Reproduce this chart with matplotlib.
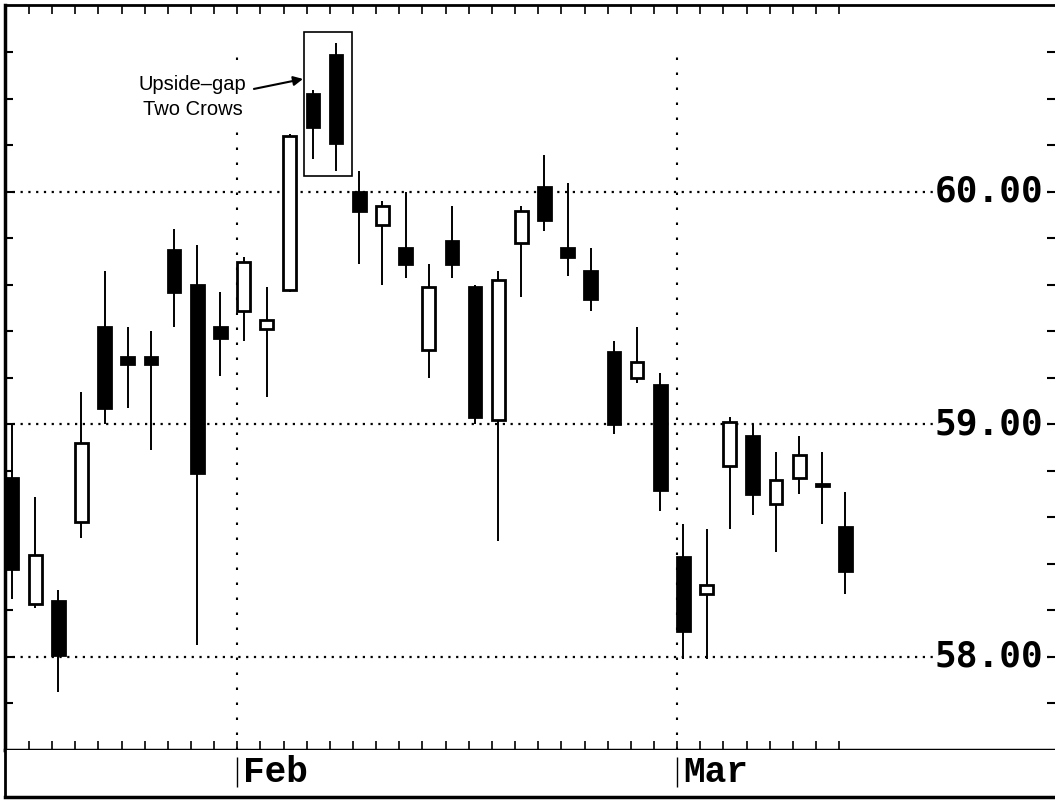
import numpy as np
import matplotlib
matplotlib.use("Agg")
import matplotlib.pyplot as plt
import matplotlib.transforms as mtransforms
from matplotlib.patches import Rectangle

# daily candles, one per trading day (Jan .. Mar)
opens = [58.77, 58.23, 58.24, 58.58, 59.42, 59.29, 59.29, 59.75, 59.60, 59.42,
         59.49, 59.41, 59.58, 60.42, 60.59, 60.00, 59.86, 59.76, 59.32, 59.79,
         59.59, 59.02, 59.78, 60.02, 59.76, 59.66, 59.31, 59.20, 59.17, 58.43,
         58.27, 58.82, 58.95, 58.66, 58.77, 58.745, 58.56]
closes = [58.38, 58.44, 58.01, 58.92, 59.07, 59.26, 59.26, 59.57, 58.79, 59.37,
          59.70, 59.45, 60.24, 60.28, 60.21, 59.92, 59.94, 59.69, 59.59, 59.69,
          59.03, 59.62, 59.92, 59.88, 59.72, 59.54, 59.00, 59.27, 58.72, 58.11,
          58.31, 59.01, 58.70, 58.76, 58.87, 58.735, 58.37]
highs = [59.00, 58.69, 58.29, 59.14, 59.66, 59.42, 59.40, 59.84, 59.77, 59.57,
         59.72, 59.59, 60.25, 60.44, 60.64, 60.09, 59.96, 60.00, 59.69, 59.94,
         59.60, 59.66, 59.94, 60.16, 60.04, 59.76, 59.36, 59.42, 59.22, 58.57,
         58.55, 59.03, 59.00, 58.88, 58.95, 58.88, 58.71]
lows = [58.25, 58.21, 57.85, 58.51, 59.00, 59.07, 58.89, 59.42, 58.05, 59.21,
        59.36, 59.12, 59.57, 60.14, 60.09, 59.69, 59.60, 59.63, 59.20, 59.63,
        59.00, 58.50, 59.55, 59.83, 59.64, 59.49, 58.96, 59.18, 58.63, 57.99,
        57.99, 58.55, 58.61, 58.45, 58.70, 58.57, 58.27]

month_names = ["Feb", "Mar"]
month_start = [10, 29]          # index of first trading day of the month
price_labels = [58.0, 59.0, 60.0]
pattern_days = [13, 14]         # upside-gap two crows
pattern_text = "Upside\u2013gap\nTwo Crows"


def draw_candles(ax):
    x = np.arange(len(opens))
    o = np.array(opens)
    c = np.array(closes)
    ax.vlines(x, lows, highs, color="black", lw=1.4, zorder=3)
    colors = ["black" if cc < oo else "white" for oo, cc in zip(o, c)]
    ax.bar(x, np.abs(c - o), bottom=np.minimum(o, c), width=0.55,
           color=colors, edgecolor="black", linewidth=2, zorder=4)


def main():
    W, H = 1055, 800
    fig = plt.figure(figsize=(W / 100, H / 100), dpi=100)
    ax = fig.add_axes([5 / W, 50 / H, 1 - 5 / W, 745 / H])
    lab = fig.add_axes([5 / W, 3 / H, 1 - 5 / W, 47 / H])

    xlim = (-0.302, 45.05)
    ax.set_xlim(*xlim)
    ax.set_ylim(57.6, 60.804)
    lab.set_xlim(*xlim)
    lab.set_ylim(0, 1)

    draw_candles(ax)

    # dotted grid
    for p in price_labels:
        ax.axhline(p, color="black", lw=1.6, dashes=(1, 2.5), zorder=1)
    month_x = [m - 0.27 for m in month_start]
    ax.vlines(month_x, 57.6, 60.63, color="black", lw=1.5,
              linestyles=[(0, (1.2, 6))], zorder=1)

    # price labels inside the plot
    trans = mtransforms.blended_transform_factory(ax.transAxes, ax.transData)
    for p in price_labels:
        ax.text(0.9886, p, f"{p:.2f}", transform=trans, ha="right", va="center",
                family="DejaVu Sans Mono", weight="bold", fontsize=26, zorder=5,
                bbox=dict(fc="white", ec="none", pad=1))

    # ticks
    ax.set_yticks(np.arange(57.8, 60.61, 0.2))
    ax.set_xticks(np.arange(1, 37) - 0.27)
    ax.tick_params(axis="y", left=True, right=True, direction="in", length=6,
                   width=1.5, labelleft=False, labelright=False)
    ax.tick_params(axis="x", top=True, bottom=True, direction="in", length=6.5,
                   width=1.2, labelbottom=False)
    ax.spines["right"].set_visible(False)
    ax.spines["left"].set_linewidth(2.5)
    ax.spines["top"].set_linewidth(2)
    ax.spines["bottom"].set_linewidth(2.5)

    # pattern box + note
    i0, i1 = pattern_days
    lo = min(lows[i0], lows[i1])
    hi = max(highs[i0], highs[i1])
    ax.add_patch(Rectangle((i0 - 0.4, lo - 0.02), (i1 - i0) + 1.1, hi - lo + 0.067,
                           fill=False, ec="black", lw=1.2, zorder=5))
    ax.text(7.8, 60.41, pattern_text, ha="center", va="center",
            multialignment="center", family="Liberation Sans", fontsize=14.5,
            linespacing=1.4, zorder=5,
            bbox=dict(fc="white", ec="none", pad=2))
    ax.annotate("", xy=(i0 - 0.43, 60.486), xytext=(10.45, 60.443),
                arrowprops=dict(arrowstyle="-|>", color="black", lw=1.5,
                                mutation_scale=14, shrinkA=0, shrinkB=0))

    # month strip
    lab.set_xticks([])
    lab.set_yticks([])
    lab.spines["right"].set_visible(False)
    lab.spines["top"].set_visible(False)
    lab.spines["left"].set_linewidth(2)
    lab.spines["bottom"].set_linewidth(2.5)
    for mx, name in zip(month_x, month_names):
        lab.vlines(mx, 0.21, 0.85, color="black", lw=1)
        lab.text(mx + 0.26, 0.32, name, family="Liberation Mono", weight="bold",
                 fontsize=26, ha="left", va="baseline")

    fig.savefig("out.png", dpi=100)
    plt.close(fig)


if __name__ == "__main__":
    main()
